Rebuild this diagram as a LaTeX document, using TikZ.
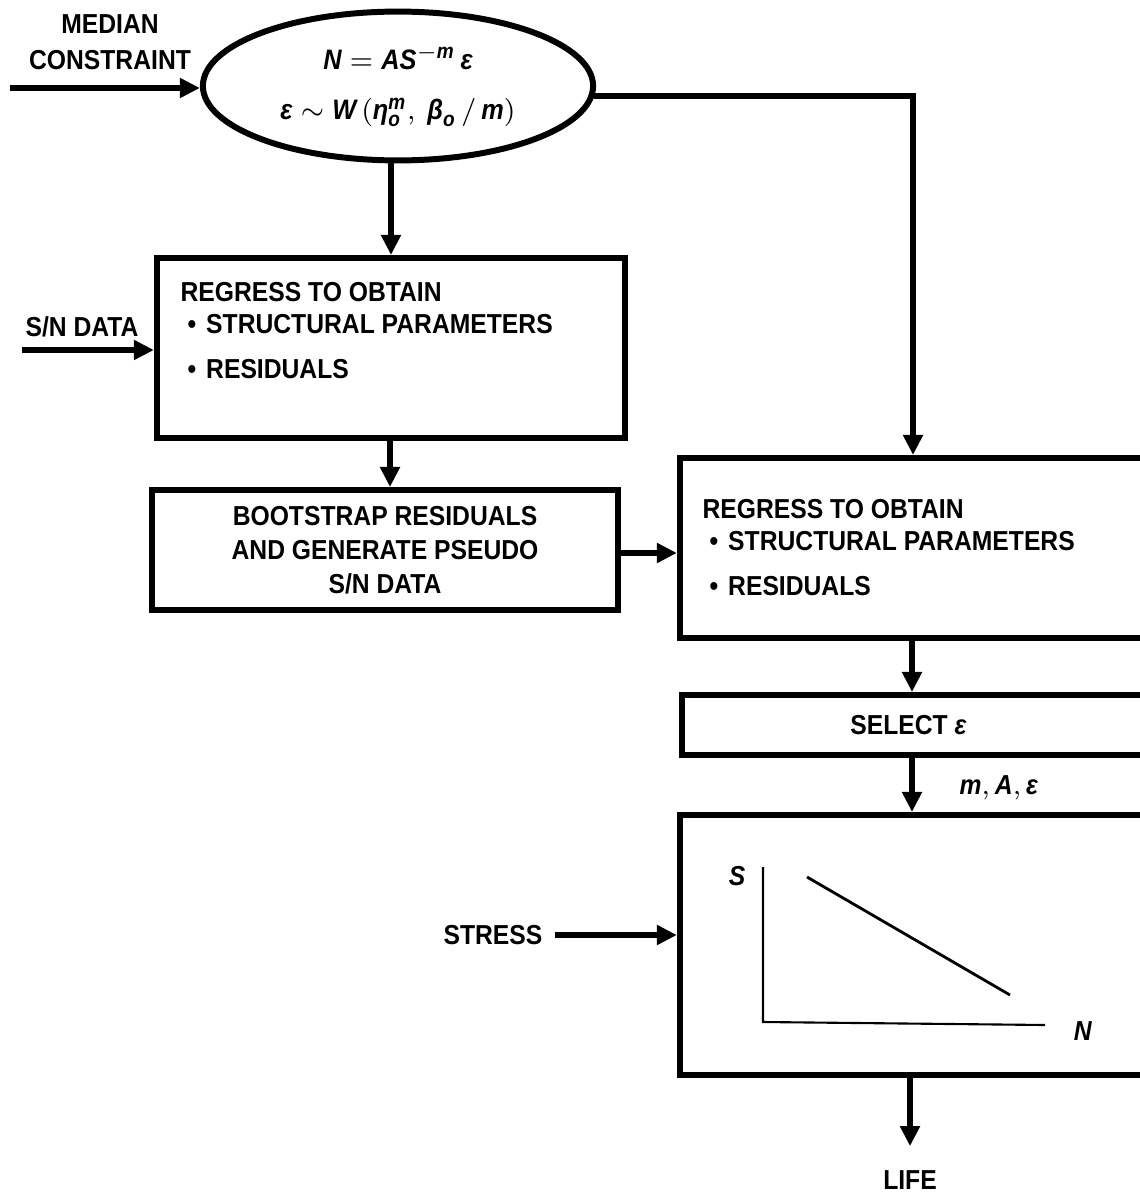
\documentclass[tikz,border=0pt]{standalone}
\usepackage{amsmath}
\usepackage{fontspec}
\setmainfont{Liberation Sans}[FakeStretch=0.9]
\usetikzlibrary{arrows.meta,shapes.geometric,calc}

\tikzset{
  flowbox/.style={draw, rectangle, line width=1.7pt, inner sep=0pt},
  flow/.style={line width=1.7pt, -{Triangle[length=0.2cm,width=0.19cm]}},
  boxtext/.style={inner sep=0pt, anchor=north west, align=left},
  plainlabel/.style={align=center},
}
\newcommand{\mi}[1]{\textit{#1}}
\newcommand{\bul}{\hspace*{0.07cm}\textbullet\hspace{0.1cm}}

\begin{document}
\begin{tikzpicture}[x=0.01cm, y=-0.01cm, font=\fontsize{7.8}{9.1}\selectfont\bfseries]
  \clip (0,0) rectangle (1140,1194);

  % model ellipse and its input
  \node[draw, ellipse, line width=1.7pt, minimum width=3.9cm, minimum height=1.32cm,
        align=center, font=\fontsize{8}{9.1}\selectfont\bfseries] (model) at (398,86)
    {$\mi{N} = \mi{AS}^{-\mi{m}}\,\mi{ε}$\\[5pt]
     $\mi{ε} \sim \mi{W}\,(\mi{η}^{\mi{m}}_{\mi{o}},\ \mi{β}_{\mi{o}}\,/\,\mi{m})$};
  \node[plainlabel] (medlab) at (110,42) {MEDIAN\\[1pt]CONSTRAINT};
  \coordinate (medin) at (10,88);
  \draw[flow] (medin) -- (medin -| model.west);

  % left column
  \node[flowbox, minimum width=4.68cm, minimum height=1.8cm] (reg1) at (391,348) {};
  \node[boxtext] (reg1text) at ($(reg1.north west)+(26,27)$)
    {REGRESS TO OBTAIN\\ \bul STRUCTURAL PARAMETERS\\[0.13cm] \bul RESIDUALS};
  \node[plainlabel] (snlab) at (82,327) {S/N DATA};
  \coordinate (snin) at (22,350);
  \draw[flow] (snin) -- (snin -| reg1.west);

  \node[flowbox, minimum width=4.66cm, minimum height=1.2cm, align=center,
        font=\fontsize{7.8}{9.7}\selectfont\bfseries] (boot) at (385,550)
    {BOOTSTRAP RESIDUALS\\AND GENERATE PSEUDO\\S/N DATA};

  % right column
  \node[flowbox, minimum width=4.7cm, minimum height=1.8cm] (reg2) at (915,548) {};
  \node[boxtext] (reg2text) at ($(reg2.north west)+(25,44)$)
    {REGRESS TO OBTAIN\\ \bul STRUCTURAL PARAMETERS\\[0.13cm] \bul RESIDUALS};
  \node[flowbox, minimum width=4.67cm, minimum height=0.6cm] (select) at (916,725)
    {\hspace*{-0.05cm}SELECT \mi{ε}\hspace*{0.1cm}};
  \node[flowbox, minimum width=4.7cm, minimum height=2.6cm] (curve) at (915,945) {};

  % S-N sketch
  \draw[line width=0.6pt] (763,867) -- (763,1022) -- (1045,1025);
  \draw[line width=0.8pt] (807,877) -- (1010,995);
  \node (slab) at (737,876) {\mi{S}};
  \node (nlab) at (1083,1031) {\mi{N}};

  % connectors
  \draw[flow] (model.south -| reg1.north) -- (reg1.north);
  \draw[flow] ([xshift=-0.01cm]reg1.south) -- ([xshift=-0.01cm]reg1.south |- boot.north);
  \draw[flow] ([yshift=-0.03cm]boot.east) -- ([yshift=-0.03cm]boot.east -| reg2.west);
  \draw[flow] (model.-3) -| ([xshift=-0.02cm]reg2.north);
  \draw[flow] ([xshift=-0.03cm]reg2.south) -- ([xshift=-0.03cm]reg2.south |- select.north);
  \draw[flow] ([xshift=-0.04cm]select.south) -- ([xshift=-0.04cm]select.south |- curve.north)
    node[pos=0.55, right=0.33cm] (mae) {$\mi{m}, \mi{A}, \mi{ε}$};

  \node (stresslab) at (493,935) {STRESS};
  \draw[flow] (stresslab.east) -- (stresslab.east -| curve.west);

  \node (lifelab) at (910,1180) {LIFE};
  \draw[flow] (curve.south -| lifelab.north) -- ([yshift=0.12cm]lifelab.north);
\end{tikzpicture}
\end{document}
